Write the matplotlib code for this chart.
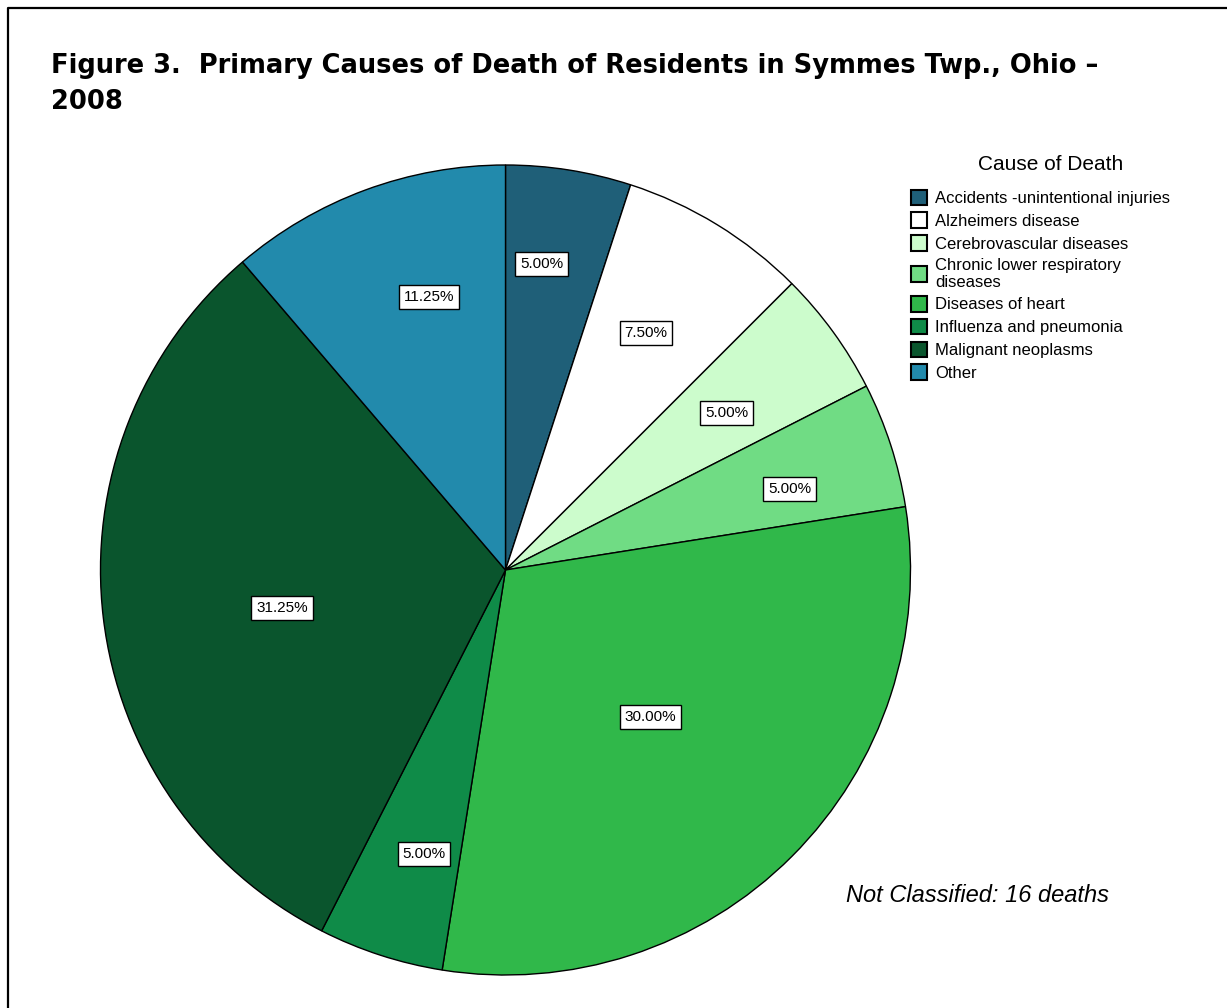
import matplotlib
matplotlib.use("Agg")
import matplotlib.pyplot as plt
import numpy as np
from matplotlib.lines import Line2D

causes = ["Accidents -unintentional injuries", "Alzheimers disease",
          "Cerebrovascular diseases", "Chronic lower respiratory\ndiseases",
          "Diseases of heart", "Influenza and pneumonia",
          "Malignant neoplasms", "Other"]
percents = [5.00, 7.50, 5.00, 5.00, 30.00, 5.00, 31.25, 11.25]
colors = ["#1f5f78", "#ffffff", "#ccfccc", "#70dc84",
          "#30b84a", "#0f8b48", "#0a552d", "#228aac"]
# label placement (layout only): distance from centre as fraction of radius,
# and angular shift (degrees) from the wedge's mid-angle
label_r = [0.76, 0.68, 0.67, 0.73, 0.51, 0.73, 0.56, 0.70]
label_shift = [2.3, 0.8, -0.6, -2.1, -0.4, 2.0, 2.9, -4.6]

title = "Figure 3.  Primary Causes of Death of Residents in Symmes Twp., Ohio –\n2008"
legend_title = "Cause of Death"
note = "Not Classified: 16 deaths"

plt.rcParams['font.family'] = ['Liberation Sans', 'DejaVu Sans']

W, H = 1227, 1008
fig = plt.figure(figsize=(W / 100, H / 100), dpi=100)

cx, cy, R = 505.5, 570, 405
ax = fig.add_axes([(cx - R) / W, (H - cy - R) / H, 2 * R / W, 2 * R / H])
wedges, _ = ax.pie(percents, colors=colors, startangle=90, counterclock=False,
                   radius=1.0,
                   wedgeprops=dict(edgecolor="black", linewidth=1.0, clip_on=False))
ax.set_xlim(-1.0, 1.0)
ax.set_ylim(-1.0, 1.0)
ax.set_aspect("equal")
ax.axis("off")

for w, p, r, s in zip(wedges, percents, label_r, label_shift):
    ang = np.deg2rad((w.theta1 + w.theta2) / 2 + s)
    ax.text(r * np.cos(ang), r * np.sin(ang), f"{p:.2f}%", ha="center", va="center",
            fontsize=11,
            bbox=dict(boxstyle="square,pad=0.32", facecolor="white",
                      edgecolor="black", linewidth=1.0))

fig.text(51 / W, 1 - 53 / H, title, fontsize=18.5, fontweight="heavy",
         family=["DejaVu Sans"], ha="left", va="top", linespacing=1.52)

fig.text(978 / W, 1 - 895 / H, note, fontsize=17, style="italic",
         ha="center", va="center")

fig.text(1051 / W, 1 - 165 / H, legend_title, fontsize=15,
         ha="center", va="center")

leg = fig.legend(wedges, causes, loc="upper left",
                 bbox_to_anchor=(904 / W, 1 - 183 / H), frameon=False,
                 fontsize=12, handlelength=1.0,
                 handleheight=1.05, handletextpad=0.45, labelspacing=0.38,
                 borderaxespad=0, borderpad=0.4)
for t in leg.get_texts():
    t.set_linespacing(1.15)
for h in leg.legend_handles:
    h.set_edgecolor("black")
    h.set_linewidth(1.5)

fig.add_artist(Line2D([8 / W, 8 / W, 1], [0, 1 - 7.5 / H, 1 - 7.5 / H],
                      color="black", linewidth=1.6, transform=fig.transFigure))

fig.savefig("out.png", dpi=100)
